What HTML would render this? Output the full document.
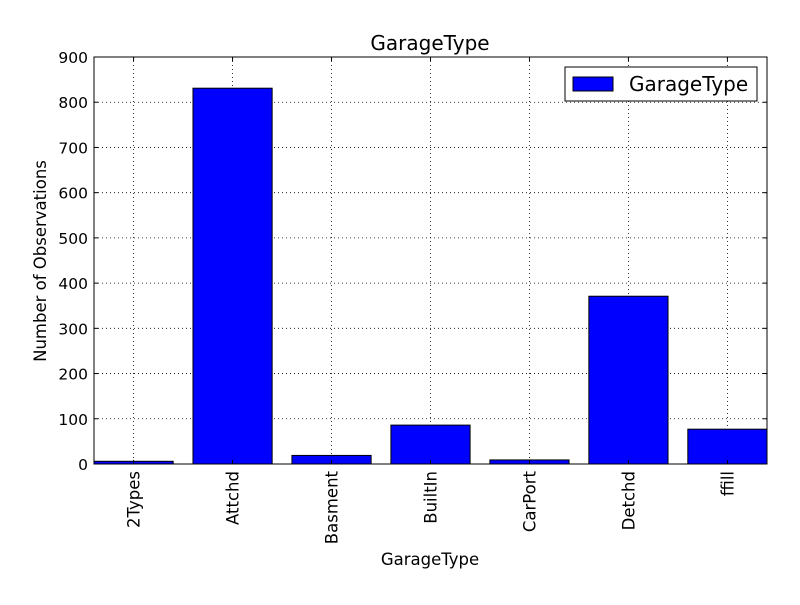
<!DOCTYPE html>
<html><head><meta charset="utf-8"><style>
body{margin:0;background:#fff;}
svg text{font-family:"DejaVu Sans","Liberation Sans",sans-serif;}
</style></head><body>
<svg id="chart" width="800" height="600" xmlns="http://www.w3.org/2000/svg">
<rect width="800" height="600" fill="#fff"/>
<g id="grid"></g><g id="bars"></g><g id="axes"></g>
</svg>
<script>
const categories = ["2Types","Attchd","Basment","BuiltIn","CarPort","Detchd","ffill"];
const counts = [6, 831, 19, 86, 9, 371, 77];
const yTicks = [0,100,200,300,400,500,600,700,800,900];
const L=94,R=767,T=57,B=464;
const xs = v => L + (v + 0.4) * (R - L) / 6.8;
const ys = v => B - v * (B - T) / 900;
const NS="http://www.w3.org/2000/svg";
function mk(tag, parent, attrs){const e=document.createElementNS(NS,tag);for(const k in attrs)e.setAttribute(k,attrs[k]);parent.appendChild(e);return e;}
const grid=document.getElementById('grid'),bars=document.getElementById('bars'),axes=document.getElementById('axes');
yTicks.forEach(t=>{
  const y=ys(t);
  const g=mk('line',grid,{x1:L,x2:R,y1:y,y2:y,stroke:'#000','stroke-dasharray':'1,3','stroke-width':0.8});
  
  
  mk('line',axes,{x1:L,x2:L+4,y1:y,y2:y,stroke:'#000'});
  mk('line',axes,{x1:R,x2:R-4,y1:y,y2:y,stroke:'#000'});
  const tx=mk('text',axes,{x:L-6,y:y+6,'text-anchor':'end','font-size':15.5});
  tx.textContent=t;
  
  
});
categories.forEach((c,i)=>{
  const x=xs(i);
  const g=mk('line',grid,{x1:x,x2:x,y1:T,y2:B,stroke:'#000','stroke-dasharray':'1,3','stroke-width':0.8});
  
  
  const w=xs(0.4)-xs(-0.4);
  const r=mk('rect',bars,{x:x-w/2,y:ys(counts[i]),width:w,height:B-ys(counts[i]),fill:'#0000ff',stroke:'#000','stroke-width':1});
  
  
  mk('line',axes,{x1:x,x2:x,y1:B,y2:B-4,stroke:'#000'});
  mk('line',axes,{x1:x,x2:x,y1:T,y2:T+4,stroke:'#000'});
  const tx=mk('text',axes,{x:0,y:0,'text-anchor':'end','font-size':16.5,transform:`translate(${x+6},${B+7}) rotate(-90)`});
  tx.textContent=c;
  
  
});
const fr=mk('rect',axes,{x:L,y:T,width:R-L,height:B-T,fill:'none',stroke:'#000','stroke-width':1});


const t1=mk('text',axes,{x:430,y:50,'text-anchor':'middle','font-size':20});t1.textContent='GarageType';


const t2=mk('text',axes,{x:430,y:565,'text-anchor':'middle','font-size':16.5});t2.textContent='GarageType';


const t3=mk('text',axes,{x:0,y:0,'text-anchor':'middle','font-size':16.5,transform:'translate(46,261) rotate(-90)'});t3.textContent='Number of Observations';


const lg=mk('g',axes,{});


mk('rect',lg,{x:565,y:67,width:192,height:34,fill:'#fff',stroke:'#000'});
const sw=mk('rect',lg,{x:573,y:77,width:40,height:14,fill:'#0000ff',stroke:'#000'});


const lt=mk('text',lg,{x:629,y:91,'font-size':20});lt.textContent='GarageType';


</script>
</body></html>
